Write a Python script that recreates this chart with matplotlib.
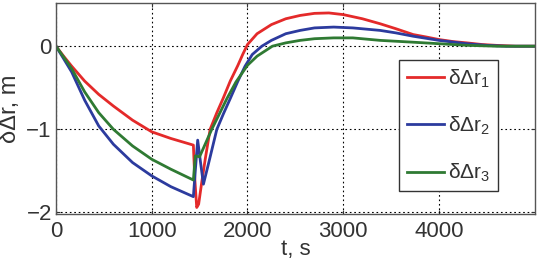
import matplotlib
matplotlib.use("Agg")
import matplotlib.pyplot as plt

plt.rcParams['font.family'] = ['Liberation Sans', 'DejaVu Sans']
plt.rcParams['mathtext.fontset'] = 'custom'
plt.rcParams['mathtext.rm'] = 'Liberation Sans'
plt.rcParams['mathtext.it'] = 'Liberation Sans:italic'

# --- Data ---
t_r1 = [0, 80, 164, 300, 447, 600, 800, 1000, 1200, 1435, 1450, 1470, 1490, 1522, 1560,
        1610, 1680, 1745, 1820, 1900, 1950, 2000, 2100, 2250, 2400, 2550, 2700, 2850, 3000,
        3200, 3385, 3550, 3730, 3870, 4000, 4150, 4290, 4450, 4600, 4800, 5000]
r1 = [0, -0.12, -0.24, -0.42, -0.58, -0.72, -0.89, -1.03, -1.11, -1.19, -1.6, -1.94, -1.9,
      -1.64, -1.35, -1.0, -0.8, -0.63, -0.42, -0.23, -0.1, 0.02, 0.15, 0.26, 0.33, 0.37,
      0.395, 0.40, 0.38, 0.33, 0.27, 0.21, 0.14, 0.11, 0.08, 0.055, 0.04, 0.02, 0.01, 0.0, 0.0]

t_r2 = [0, 80, 164, 300, 447, 600, 800, 1000, 1200, 1435, 1455, 1480, 1510, 1540, 1600,
        1680, 1750, 1820, 1900, 1975, 2050, 2150, 2250, 2400, 2550, 2700, 2900, 3100,
        3385, 3550, 3730, 4000, 4290, 4500, 4700, 5000]
r2 = [0, -0.15, -0.31, -0.65, -0.96, -1.18, -1.4, -1.56, -1.69, -1.81, -1.5, -1.13, -1.4,
      -1.66, -1.38, -1.0, -0.81, -0.63, -0.42, -0.24, -0.1, 0.0, 0.07, 0.15, 0.19, 0.22,
      0.23, 0.22, 0.19, 0.16, 0.12, 0.07, 0.03, 0.01, 0.0, 0.0]

t_r3 = [0, 80, 164, 300, 447, 600, 800, 1000, 1200, 1435, 1455, 1500, 1550, 1627, 1700,
        1785, 1880, 2000, 2100, 2260, 2400, 2550, 2700, 2900, 3100, 3385, 3700, 4000,
        4300, 4600, 5000]
r3 = [0, -0.13, -0.27, -0.55, -0.8, -1.0, -1.2, -1.36, -1.48, -1.61, -1.32, -1.33, -1.2,
      -1.0, -0.83, -0.63, -0.43, -0.23, -0.12, 0.0, 0.04, 0.07, 0.09, 0.10, 0.10, 0.07,
      0.05, 0.03, 0.01, 0.0, 0.0]

labels = ['δΔr$_1$', 'δΔr$_2$', 'δΔr$_3$']
colors = ['#e42a2a', '#2c3b9e', '#2f7a33']

# --- Figure ---
fig = plt.figure(figsize=(5.38, 2.70), dpi=100)
ax = fig.add_axes([0.104, 0.207, 0.890, 0.782])

for t, v, lab, c in zip([t_r1, t_r2, t_r3], [r1, r2, r3], labels, colors):
    ax.plot(t, v, color=c, lw=2.0, label=lab)

ax.set_xlim(0, 5000)
ax.set_ylim(-2.02, 0.52)
ax.set_xticks([0, 1000, 2000, 3000, 4000])
ax.set_yticks([-2, -1, 0])
ax.grid(True, color='black', linestyle=(0, (1.5, 2.5)), lw=0.8)
ax.tick_params(direction='in', length=3, labelsize=16, top=True, right=True,
               colors='#333333')
ax.tick_params(axis='x', pad=5)
ax.tick_params(axis='y', pad=3)
for s in ax.spines.values():
    s.set_color('#555555')
    s.set_linewidth(1.0)

ax.set_xlabel('t, s', fontsize=16, labelpad=-2, color='#333333')
ax.set_ylabel('δΔr, m', fontsize=17, labelpad=4, color='#333333')

leg = ax.legend(loc='upper left', bbox_to_anchor=(0.717, 0.73), borderaxespad=0,
                fontsize=15, frameon=True, fancybox=False, edgecolor='#333333',
                framealpha=1, handlelength=1.8, handletextpad=0.2, labelspacing=1.2,
                borderpad=0.35)
leg.get_frame().set_linewidth(1.0)
for txt in leg.get_texts():
    txt.set_color('#333333')

fig.savefig('out.png', dpi=100)
